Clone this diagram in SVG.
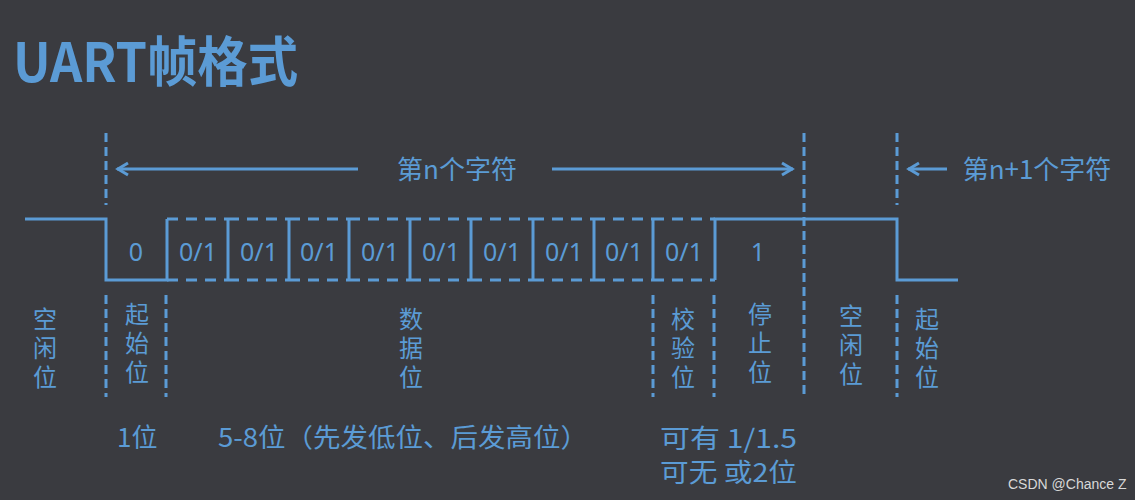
<svg xmlns="http://www.w3.org/2000/svg" width="1135" height="500" viewBox="0 0 1135 500">
<defs>
<style>
.w{fill:none;stroke:#5b9bd5;stroke-width:3}
.d{fill:none;stroke:#5b9bd5;stroke-width:3;stroke-dasharray:9 5}
.h{fill:none;stroke:#5b9bd5;stroke-width:3;stroke-dasharray:11 8}
.t{fill:#5b9bd5;font-family:"Noto Sans CJK SC","Noto Sans",sans-serif;font-size:26px}
.b{fill:#5b9bd5;font-family:"Noto Sans",sans-serif;font-size:25px;text-anchor:middle}
.v{fill:#5b9bd5;font-family:"Noto Sans CJK SC",sans-serif;font-size:24px;writing-mode:vertical-rl;letter-spacing:5px}
</style>
<marker id="ah" viewBox="-14 -8 16 16" markerWidth="16" markerHeight="16" refX="0" refY="0" orient="auto" markerUnits="userSpaceOnUse">
<path d="M-11,-6 L-1,0 L-11,6" fill="none" stroke="#5b9bd5" stroke-width="3"/>
</marker>
</defs>
<rect width="1135" height="500" fill="#3a3b40"/>
<g id="title">
<text x="13" y="82" textLength="285" lengthAdjust="spacingAndGlyphs" style="fill:#5b9bd5;font-family:'Noto Sans CJK SC','Noto Sans',sans-serif;font-size:54px;font-weight:bold">UART帧格式</text>
</g>
<g id="connectors">
<line class="d" x1="106" y1="133" x2="106" y2="205"/>
<line class="d" x1="804" y1="133" x2="804" y2="397"/>
<line class="d" x1="897" y1="133" x2="897" y2="205"/>
<line class="d" x1="106" y1="295" x2="106" y2="397"/>
<line class="d" x1="166" y1="295" x2="166" y2="397"/>
<line class="d" x1="653" y1="295" x2="653" y2="397"/>
<line class="d" x1="714" y1="295" x2="714" y2="397"/>
<line class="d" x1="897" y1="295" x2="897" y2="397"/>
<line class="w" x1="358" y1="169" x2="117" y2="169" marker-end="url(#ah)"/>
<line class="w" x1="552" y1="169" x2="793" y2="169" marker-end="url(#ah)"/>
<line class="w" x1="947" y1="169" x2="908" y2="169" marker-end="url(#ah)"/>
</g>
<g id="waveform">
<path class="w" d="M25,219 H106 V280 H167 V219"/>
<path class="w" d="M228,219 V280 M289,219 V280 M349,219 V280 M410,219 V280 M471,219 V280 M533,219 V280 M594,219 V280 M653,219 V280"/>
<path class="w" d="M715,280 V219 H897 V280 H958"/>
<path class="h" d="M167,219 H228 M228,219 H289 M289,219 H349 M349,219 H410 M410,219 H471 M471,219 H533 M533,219 H594 M594,219 H653 M653,219 H715"/>
<path class="h" d="M167,280 H228 M228,280 H289 M289,280 H349 M349,280 H410 M410,280 H471 M471,280 H533 M533,280 H594 M594,280 H653 M653,280 H715"/>
</g>
<g id="bits">
<text class="b" x="136" y="261">0</text>
<text class="b" x="198" y="261">0/1</text>
<text class="b" x="259" y="261">0/1</text>
<text class="b" x="319" y="261">0/1</text>
<text class="b" x="380" y="261">0/1</text>
<text class="b" x="441" y="261">0/1</text>
<text class="b" x="502" y="261">0/1</text>
<text class="b" x="564" y="261">0/1</text>
<text class="b" x="624" y="261">0/1</text>
<text class="b" x="684" y="261">0/1</text>
<text class="b" x="758" y="261">1</text>
</g>
<g id="label-n">
<text class="t" x="457" y="179" text-anchor="middle">第n个字符</text>
</g>
<g id="label-n1">
<text class="t" x="1037" y="179" text-anchor="middle">第n+1个字符</text>
</g>
<g id="idle1"><text class="v" x="45" y="307">空闲位</text></g>
<g id="start1"><text class="v" x="137" y="302">起始位</text></g>
<g id="data"><text class="v" x="411" y="307">数据位</text></g>
<g id="parity"><text class="v" x="683" y="307">校验位</text></g>
<g id="stop"><text class="v" x="760" y="302">停止位</text></g>
<g id="idle2"><text class="v" x="851" y="304">空闲位</text></g>
<g id="start2"><text class="v" x="927" y="307">起始位</text></g>
<g id="notes">
<text class="t" x="117" y="447">1位</text>
<text class="t" x="218" y="447" textLength="370" lengthAdjust="spacingAndGlyphs">5-8位（先发低位、后发高位）</text>
<text class="t" x="660" y="448" textLength="137" lengthAdjust="spacingAndGlyphs">可有 1/1.5</text>
<text class="t" x="660" y="482" textLength="137" lengthAdjust="spacingAndGlyphs">可无 或2位</text>
</g>
<g id="watermark">
<text x="1008" y="489" style="fill:#d8d8d8;font-family:'Liberation Sans',sans-serif;font-size:14px">CSDN @Chance Z</text>
</g>
</svg>
